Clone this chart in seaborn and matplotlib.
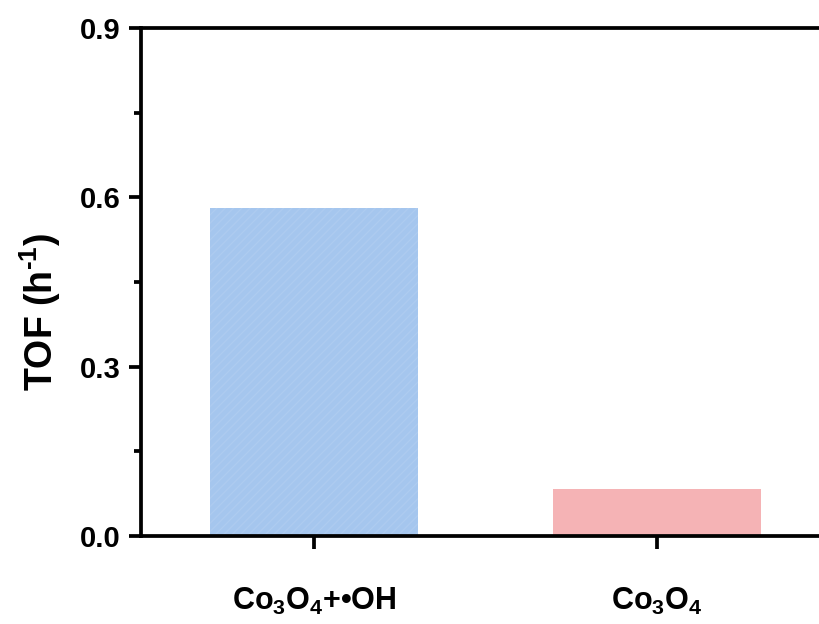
import matplotlib
matplotlib.use("Agg")
import matplotlib.pyplot as plt
import seaborn as sns
import pandas as pd
from matplotlib.ticker import MultipleLocator

categories = [r"$\mathbf{Co_3O_4}$+•OH", r"$\mathbf{Co_3O_4}$"]
values = [0.581, 0.083]
colors = ["#A5C6EE", "#F5B3B5"]

sns.set_theme(style="ticks")
plt.rcParams["font.family"] = ["Liberation Sans", "DejaVu Sans"]
plt.rcParams["font.weight"] = "bold"
plt.rcParams["mathtext.fontset"] = "custom"
plt.rcParams["mathtext.bf"] = "Liberation Sans:bold"
plt.rcParams["mathtext.rm"] = "Liberation Sans:bold"
plt.rcParams["mathtext.it"] = "Liberation Sans:bold"
plt.rcParams["hatch.linewidth"] = 1.0

df = pd.DataFrame({"cat": categories, "val": values})

fig = plt.figure(figsize=(8.2, 6.24), dpi=100)
ax = fig.add_axes([141/820, 88/624, 689/820, 508/624])

sns.barplot(data=df, x="cat", y="val", hue="cat", palette=colors,
            width=0.606, saturation=1, legend=False, ax=ax)
for i, p in enumerate(ax.patches):
    p.set_linewidth(0)
    if i == 0:
        p.set_hatch("////")
        p.set_edgecolor("#ADCBF0")

ax.set_xlim(-0.504, 1.504)
ax.set_ylim(0, 0.9)
ax.yaxis.set_major_locator(MultipleLocator(0.3))
ax.yaxis.set_minor_locator(MultipleLocator(0.15))
ax.yaxis.set_major_formatter(matplotlib.ticker.FormatStrFormatter("%.1f"))

for s in ["left", "bottom", "top", "right"]:
    ax.spines[s].set_linewidth(2.7)
    ax.spines[s].set_color("black")

ax.tick_params(axis="both", which="major", direction="out", length=9, width=2.7,
               colors="black", pad=6)
ax.tick_params(axis="y", which="major", labelsize=21)
ax.tick_params(axis="y", which="minor", direction="out", length=5, width=2.7, colors="black")
ax.tick_params(axis="x", labelsize=22, pad=27)

for lab in ax.get_xticklabels() + ax.get_yticklabels():
    lab.set_fontweight("bold")

ax.set_xlabel("")
ax.set_ylabel(r"TOF (h$^{\mathbf{\text{-}1}}$)", fontsize=27, fontweight="bold", color="black")
ax.yaxis.set_label_coords(-0.113, 0.441)

fig.savefig("out.png", dpi=100)
